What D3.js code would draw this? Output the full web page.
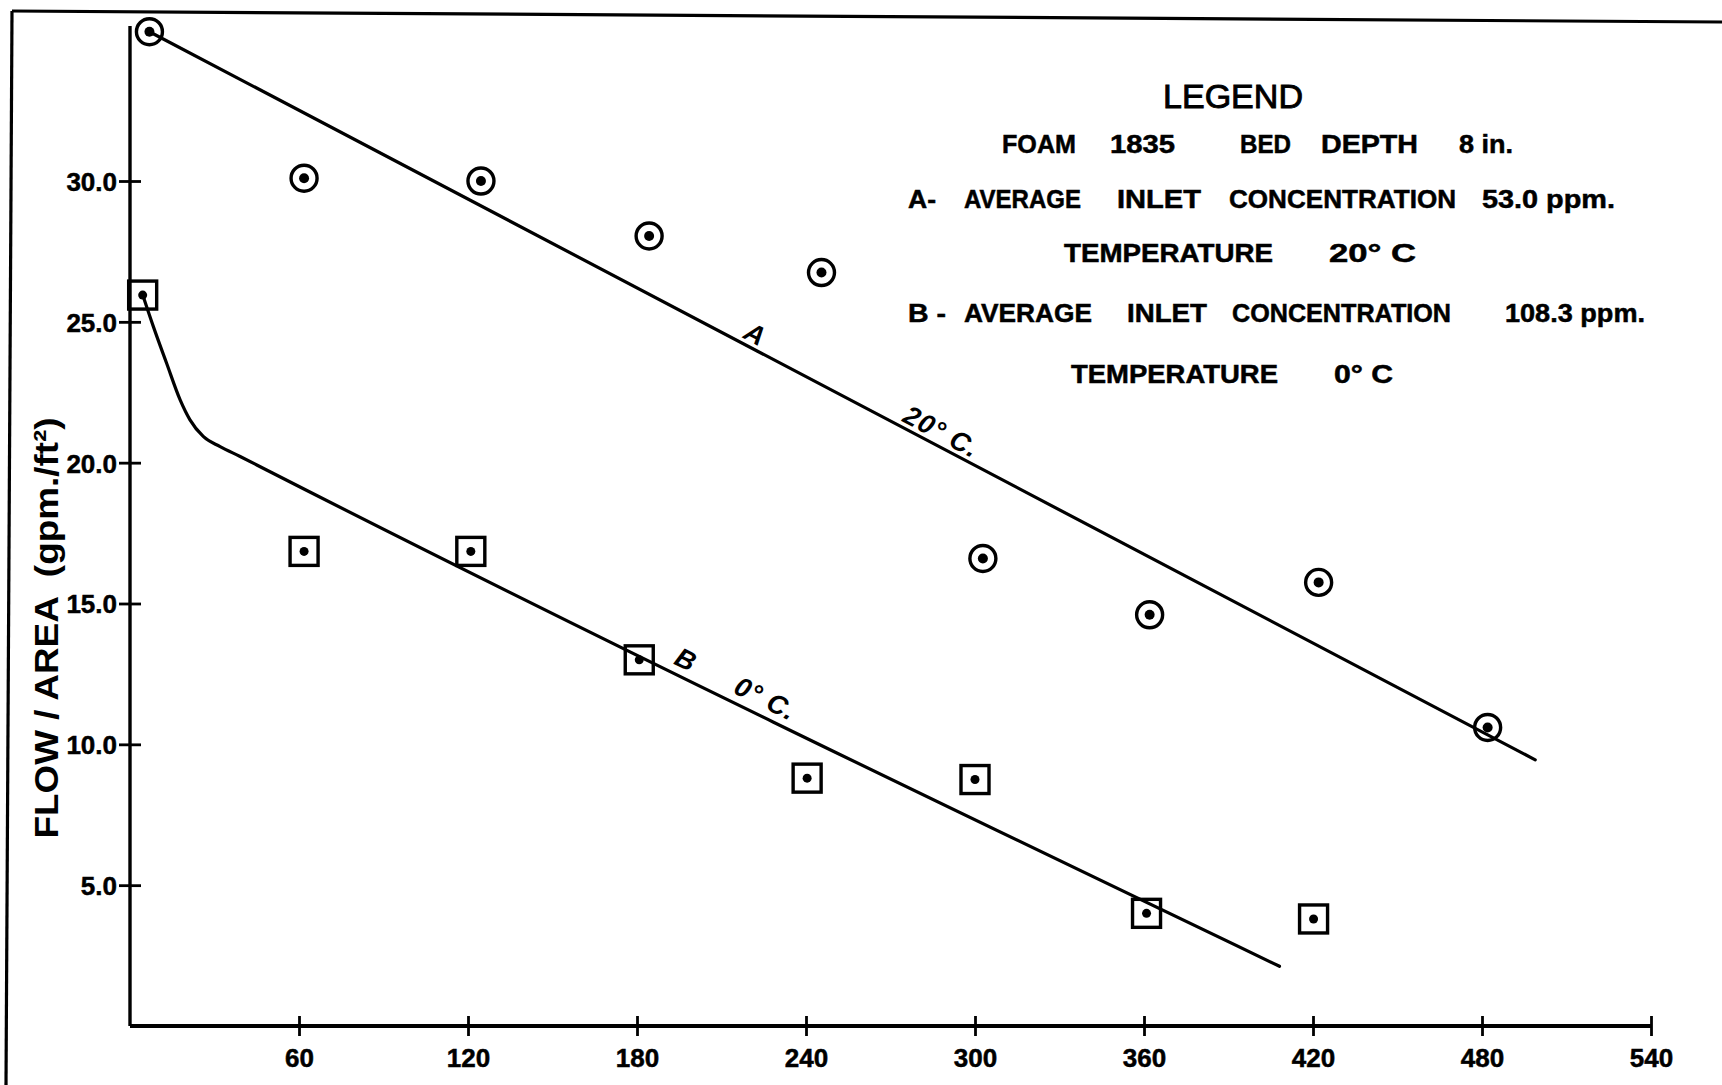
<!DOCTYPE html>
<html>
<head>
<meta charset="utf-8">
<script src="https://cdn.jsdelivr.net/npm/d3@7"></script>
<style>
  html, body { margin: 0; padding: 0; background: #fff; }
  svg { display: block; }
  text { font-family: "Liberation Sans", "DejaVu Sans", Arial, sans-serif; fill: #000; }
</style>
</head>
<body>
<svg id="chart" width="1722" height="1085"></svg>
<script>
// ---- Observations: elapsed time (min) vs. flow per unit area (gpm/ft²) ----
const timeA = [6.9, 61.8, 124.6, 184.3, 245.5, 302.8, 362, 422, 482];
const flowA = [35.3, 30.1, 30.0, 28.05, 26.75, 16.6, 14.6, 15.75, 10.6];

const timeB = [4.5, 61.8, 121, 180.8, 240.4, 300, 360.9, 420.2];
const flowB = [25.95, 16.85, 16.85, 13.0, 8.8, 8.75, 4.0, 3.8];

// ---- Hand-fitted curves ----
const fitTimeA = [6.9, 498.9];
const fitFlowA = [35.3, 9.45];

const fitTimeB = [4.7, 8.3, 13, 17.8, 21.3, 26, 32, 39.1, 48.5, 408.1];
const fitFlowB = [25.9, 24.83, 23.53, 22.23, 21.52, 20.93, 20.57, 20.22, 19.74, 2.12];

// ---- Axis ticks ----
const xTicks = [60, 120, 180, 240, 300, 360, 420, 480, 540];
const xTickLabels = ["60", "120", "180", "240", "300", "360", "420", "480", "540"];
const yTicks = [5, 10, 15, 20, 25, 30];
const yTickLabels = ["5.0", "10.0", "15.0", "20.0", "25.0", "30.0"];

// ---- Text ----
const yTitle = "FLOW / AREA  (gpm./ft²)";
const legendTitle = "LEGEND";
const legendLines = [
  ["FOAM", "1835", "BED", "DEPTH", "8 in."],
  ["A-", "AVERAGE", "INLET", "CONCENTRATION", "53.0 ppm."],
  ["TEMPERATURE", "20° C"],
  ["B -", "AVERAGE", "INLET", "CONCENTRATION", "108.3 ppm."],
  ["TEMPERATURE", "0° C"]
];
const curveLabelsA = ["A", "20° C."];
const curveLabelsB = ["B", "0° C."];

// ---- Layout ----
const svg = d3.select("#chart");
const x = d3.scaleLinear().domain([0, 540]).range([130, 1651]);
const y = d3.scaleLinear().domain([0, 30]).range([1026, 181]);
const yTop = 35.5;
const ink = "#000";

// sheet border (left and top edges)
svg.append("line").attr("x1", 12).attr("y1", 11).attr("x2", 1722).attr("y2", 22)
  .attr("stroke", ink).attr("stroke-width", 3.2);
svg.append("line").attr("x1", 12).attr("y1", 11).attr("x2", 6).attr("y2", 1085)
  .attr("stroke", ink).attr("stroke-width", 3.2);

// ---- Axes ----
const gx = svg.append("g").attr("transform", `translate(0,${y(0)})`)
  .call(d3.axisBottom(x).tickValues(xTicks)
    .tickFormat((d, i) => xTickLabels[i]).tickSize(9).tickSizeOuter(0));
gx.select(".domain").attr("stroke", ink).attr("stroke-width", 4)
  .attr("d", `M${x(0)},0H${x(540)}`);
gx.selectAll(".tick line").attr("y1", -10).attr("y2", 10).attr("stroke-width", 2.8);
gx.selectAll(".tick text").attr("y", 41).attr("dy", null)
  .attr("font-size", 26).attr("font-weight", "bold")
  .attr("stroke", ink).attr("stroke-width", 0.5)
  .attr("font-family", "'Liberation Sans', 'DejaVu Sans', sans-serif");

const gy = svg.append("g").attr("transform", `translate(${x(0)},0)`)
  .call(d3.axisLeft(y).tickValues(yTicks)
    .tickFormat((d, i) => yTickLabels[i]).tickSize(10).tickSizeOuter(0));
gy.select(".domain").attr("stroke", ink).attr("stroke-width", 3.4)
  .attr("d", `M0,${y(0)}V${y(yTop)}`);
gy.selectAll(".tick line").attr("x1", 11).attr("x2", -11).attr("stroke-width", 2.8);
gy.selectAll(".tick text").attr("x", -13).attr("dy", "0.36em")
  .attr("font-size", 26).attr("font-weight", "bold")
  .attr("stroke", ink).attr("stroke-width", 0.5)
  .attr("font-family", "'Liberation Sans', 'DejaVu Sans', sans-serif");

// y-axis title
svg.append("text")
  .attr("transform", `translate(58,628) rotate(-90)`)
  .attr("text-anchor", "middle")
  .attr("font-size", 34).attr("font-weight", "bold")
  .attr("textLength", 421).attr("lengthAdjust", "spacingAndGlyphs")
  .style("white-space", "pre")
  .text(yTitle);

// ---- Fitted curves ----
const lineGen = d3.line().x(d => x(d[0])).y(d => y(d[1]));
const ptsA = fitTimeA.map((t, i) => [t, fitFlowA[i]]);
const ptsB = fitTimeB.map((t, i) => [t, fitFlowB[i]]);
svg.append("path").attr("d", lineGen(ptsA))
  .attr("fill", "none").attr("stroke", ink).attr("stroke-width", 3.2)
  .attr("stroke-linecap", "round");
svg.append("path").attr("d", lineGen.curve(d3.curveMonotoneX)(ptsB))
  .attr("fill", "none").attr("stroke", ink).attr("stroke-width", 3.2)
  .attr("stroke-linecap", "round");

// ---- Markers ----
const dataA = timeA.map((t, i) => ({ t, v: flowA[i] }));
const dataB = timeB.map((t, i) => ({ t, v: flowB[i] }));

const gA = svg.append("g").selectAll("g").data(dataA).join("g")
  .attr("transform", d => `translate(${x(d.t)},${y(d.v)})`);
gA.append("circle").attr("r", 13).attr("fill", "none")
  .attr("stroke", ink).attr("stroke-width", 3.4);
gA.append("circle").attr("r", 5).attr("fill", ink);

const sq = 28;
const gB = svg.append("g").selectAll("g").data(dataB).join("g")
  .attr("transform", d => `translate(${x(d.t)},${y(d.v)})`);
gB.append("rect").attr("x", -sq / 2).attr("y", -sq / 2)
  .attr("width", sq).attr("height", sq).attr("fill", "none")
  .attr("stroke", ink).attr("stroke-width", 3.4);
gB.append("circle").attr("r", 4.5).attr("fill", ink);

// ---- Curve labels, set along each line ----
const interpA = d3.scaleLinear().domain(fitTimeA).range(fitFlowA);
const interpB = d3.scaleLinear().domain(fitTimeB.slice(-2)).range(fitFlowB.slice(-2));
function slopeAngle(interp, t0, t1) {
  const dx = x(t1) - x(t0), dy = y(interp(t1)) - y(interp(t0));
  return Math.atan2(dy, dx) * 180 / Math.PI;
}
const angA = slopeAngle(interpA, 100, 400);
const angB = slopeAngle(interpB, 100, 400);

function curveLabel(t, interp, ang, txt, anchor, len) {
  const el = svg.append("text")
    .attr("transform", `translate(${x(t)},${y(interp(t))}) rotate(${ang})`)
    .attr("y", -5)
    .attr("text-anchor", anchor)
    .attr("font-size", 27).attr("font-weight", "bold").attr("font-style", "italic")
    .style("white-space", "pre")
    .text(txt);
  if (len) el.attr("textLength", len).attr("lengthAdjust", "spacing");
}
curveLabel(219.5, interpA, angA, curveLabelsA[0], "middle");
curveLabel(273, interpA, angA, curveLabelsA[1], "start", 80);
curveLabel(195, interpB, angB, curveLabelsB[0], "middle");
curveLabel(213, interpB, angB, curveLabelsB[1], "start", 64);

// ---- Legend block ----
svg.append("text").attr("x", 1163).attr("y", 108)
  .attr("font-size", 33)
  .attr("stroke", ink).attr("stroke-width", 0.9)
  .attr("textLength", 140).attr("lengthAdjust", "spacingAndGlyphs")
  .text(legendTitle);

const legendBaselines = [153, 208, 262, 322, 383];
const legendSpans = [
  [[1002, 1076], [1110, 1175], [1240, 1291], [1321, 1418], [1459, 1513]],
  [[908, 936], [964, 1081], [1117, 1201], [1229, 1456], [1482, 1615]],
  [[1064, 1273], [1329, 1416]],
  [[908, 946], [964, 1092], [1127, 1207], [1232, 1451], [1505, 1645]],
  [[1071, 1278], [1334, 1393]]
];
legendLines.forEach((words, li) => {
  words.forEach((w, wi) => {
    const [x0, x1] = legendSpans[li][wi];
    svg.append("text")
      .attr("x", x0).attr("y", legendBaselines[li])
      .attr("font-size", 25).attr("font-weight", "bold")
      .attr("stroke", ink).attr("stroke-width", 0.5)
      .attr("textLength", x1 - x0).attr("lengthAdjust", "spacingAndGlyphs")
      .text(w);
  });
});
</script>
</body>
</html>
